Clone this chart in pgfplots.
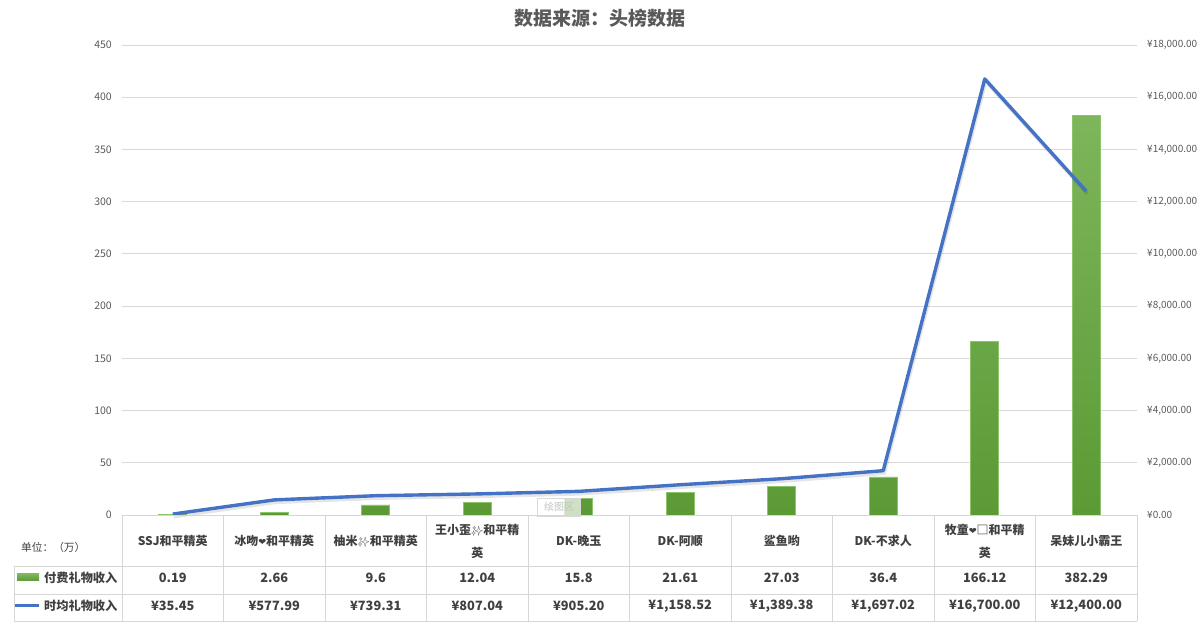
\documentclass[border=0pt]{standalone}
\usepackage{fontspec}
\usepackage{pgfplots}
\pgfplotsset{compat=1.18}
\setmainfont{Noto Sans CJK SC}
\newfontfamily\emoji{Noto Emoji}
\newfontfamily\dejavu{DejaVu Sans}
\definecolor{gridgray}{HTML}{D9D9D9}
\definecolor{tablegray}{HTML}{D6D6D6}
\definecolor{txt}{HTML}{404040}
\definecolor{tickgray}{HTML}{595959}
\definecolor{lineblue}{HTML}{4472C4}
\definecolor{barTop}{HTML}{7DB65B}
\definecolor{barBot}{HTML}{5B9A35}
\definecolor{barBorder}{HTML}{8CC46C}
\newcommand{\hrt}{{\dejavu\fontsize{9.5}{9.5}\selectfont ❤}}
\newcommand{\spk}{{\emoji\fontsize{9.5}{9.5}\selectfont ✨}}
\begin{document}
\begin{tikzpicture}[x=1pt,y=1pt]
\path[use as bounding box] (0,0) rectangle (1200,637);
% bars, left axis
\begin{axis}[
  at={(122pt,122pt)}, anchor=south west,
  width=1015pt, height=470pt, scale only axis,
  xmin=-0.5, xmax=9.5, ymin=0, ymax=450,
  ytick={0,50,...,450}, xtick=\empty,
  /pgf/number format/assume math mode=true,
  ymajorgrids, grid style={draw=gridgray, line width=0.8pt},
  axis line style={draw=none}, major tick style={draw=none},
  yticklabel style={font=\fontsize{10.5}{12}\selectfont, text=tickgray, inner sep=0pt, xshift=-10pt},
  ybar, bar width=28pt, clip=false,
]
\addplot[draw=barBorder, line width=0.6pt, top color=barTop, bottom color=barBot]
 coordinates {(0,0.19) (1,2.66) (2,9.6) (3,12.04) (4,15.8) (5,21.61) (6,27.03) (7,36.4) (8,166.12) (9,382.29)};
\end{axis}
% line, right axis
\begin{axis}[
  at={(122pt,122pt)}, anchor=south west,
  width=1015pt, height=470pt, scale only axis,
  xmin=-0.5, xmax=9.5, ymin=0, ymax=18000,
  axis x line=none, axis y line*=right,
  axis line style={draw=none}, major tick style={draw=none},
  scaled y ticks=false,
  ytick={0,2000,...,18000},
  yticklabels={{¥0.00},{¥2,000.00},{¥4,000.00},{¥6,000.00},{¥8,000.00},{¥10,000.00},{¥12,000.00},{¥14,000.00},{¥16,000.00},{¥18,000.00}},
  yticklabel style={font=\fontsize{10}{12}\selectfont, text=tickgray, inner sep=0pt, xshift=10pt, anchor=west},
  clip=false,
]
\addplot[black, opacity=0.10, line width=3.5pt, xshift=1pt, yshift=-2.5pt]
 coordinates {(0,35.45) (1,577.99) (2,739.31) (3,807.04) (4,905.20) (5,1158.52) (6,1389.38) (7,1697.02) (8,16700) (9,12400)};
\addplot[lineblue, line width=3.4pt, line join=round]
 coordinates {(0,35.45) (1,577.99) (2,739.31) (3,807.04) (4,905.20) (5,1158.52) (6,1389.38) (7,1697.02) (8,16700) (9,12400)};
\end{axis}
% title
\node[font=\bfseries\fontsize{19}{23}\selectfont, text=tickgray] at (600,619) {数据来源：头榜数据};
% tooltip artifact
\node[draw=gridgray, fill=white, fill opacity=0.7, text opacity=1, text=gridgray!90!black, font=\fontsize{10}{12}\selectfont, minimum width=43pt, minimum height=18pt, inner sep=1pt] at (559,130) {绘图区};
% table lines
\draw[tablegray, line width=0.8pt] (122,122) -- (1137,122);
\draw[tablegray, line width=0.8pt] (14,71) -- (1137,71);
\draw[tablegray, line width=0.8pt] (14,43) -- (1137,43);
\draw[tablegray, line width=0.8pt] (14,16) -- (1137,16);
\draw[tablegray, line width=0.8pt] (14,16) -- (14,71);
\foreach \i in {0,...,10} \draw[tablegray, line width=0.8pt] ({122+\i*101.5},16) -- ({122+\i*101.5},122);
% unit
\node[anchor=west, text=txt, font=\fontsize{10.7}{12}\selectfont, inner sep=0pt] at (21,90) {单位：（万）};
% legend
\fill[top color=barTop, bottom color=barBot] (17,56) rectangle (39,63);
\draw[lineblue, line width=3pt] (15,31) -- (39,31);
\node[anchor=west, text=txt, font=\bfseries\fontsize{12.2}{13}\selectfont, inner sep=0pt] at (44,59) {付费礼物收入};
\node[anchor=west, text=txt, font=\bfseries\fontsize{12.2}{13}\selectfont, inner sep=0pt] at (44,31) {时均礼物收入};
% headers
\begin{scope}[every node/.style={text=txt, font=\bfseries\fontsize{12}{23}\selectfont, align=center, inner sep=0pt}]
\node at (172.75,96) {SSJ和平精英};
\node at (274.25,96) {冰吻\hrt 和平精英};
\node at (375.75,96) {柚米\spk 和平精英};
\node at (477.25,96) {王小歪\spk 和平精\\英};
\node at (578.75,96) {DK-晚玉};
\node at (680.25,96) {DK-阿顺};
\node at (781.75,96) {鲨鱼哟};
\node at (883.25,96) {DK-不求人};
\node at (984.75,96) {牧童\hrt □和平精\\英};
\node at (1086.25,96) {呆妹儿小霸王};
\end{scope}
\begin{scope}[every node/.style={text=txt, font=\bfseries\fontsize{12.8}{14}\selectfont, inner sep=0pt}]
% row 1
\node at (172.75,59) {0.19};
\node at (274.25,59) {2.66};
\node at (375.75,59) {9.6};
\node at (477.25,59) {12.04};
\node at (578.75,59) {15.8};
\node at (680.25,59) {21.61};
\node at (781.75,59) {27.03};
\node at (883.25,59) {36.4};
\node at (984.75,59) {166.12};
\node at (1086.25,59) {382.29};
% row 2
\node at (172.75,31) {¥35.45};
\node at (274.25,31) {¥577.99};
\node at (375.75,31) {¥739.31};
\node at (477.25,31) {¥807.04};
\node at (578.75,31) {¥905.20};
\node at (680.25,31) {¥1,158.52};
\node at (781.75,31) {¥1,389.38};
\node at (883.25,31) {¥1,697.02};
\node at (984.75,31) {¥16,700.00};
\node at (1086.25,31) {¥12,400.00};
\end{scope}
\end{tikzpicture}
\end{document}
